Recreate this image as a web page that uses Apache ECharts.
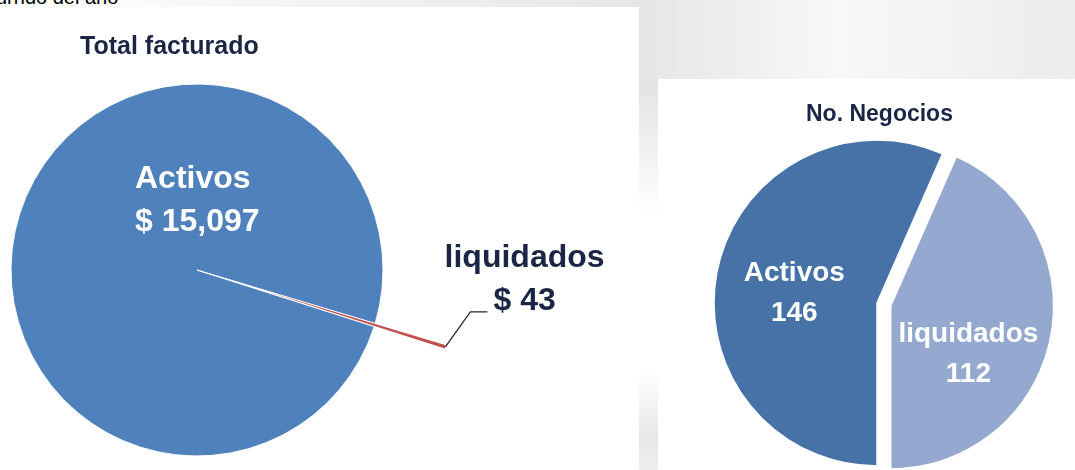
<!DOCTYPE html>
<html>
<head>
<meta charset="utf-8">
<script src="https://cdn.jsdelivr.net/npm/echarts@6/dist/echarts.min.js"></script>
<style>
  html, body { margin: 0; padding: 0; }
  body {
    width: 1075px; height: 470px; overflow: hidden; position: relative;
    background: linear-gradient(90deg, #ffffff 0%, #f3f3f3 30%, #e6e6e6 60%, #f8f8f8 78%, #ececec 100%);
  }
  .panel-left { position: absolute; left: 0; top: 7px; width: 639px; height: 463px; background: #fff; }
  .strip { position: absolute; left: 639px; top: 79px; width: 19px; height: 391px;
    background: linear-gradient(180deg, #e2e2e2 0%, #ffffff 35%, #ffffff 75%, #e6e6e6 92%, #efefef 100%); }
  .panel-right { position: absolute; left: 658px; top: 79px; width: 417px; height: 391px; background: #fff; }
  .cut-text { position: absolute; left: -4px; top: -14px; font: 20px "Liberation Sans", Arial, sans-serif; color: #000; }
  #chart { position: absolute; left: 0; top: 0; width: 1075px; height: 470px; }
</style>
</head>
<body>
<div class="panel-left"></div>
<div class="strip"></div>
<div class="panel-right"></div>
<div class="cut-text">urrido del año</div>
<div id="chart"></div>
<script>
// datos
const categorias = ['Activos', 'liquidados'];
const totalFacturado = [15097, 43];
const noNegocios = [146, 112];

const fuente = '"Liberation Sans", Arial, sans-serif';
const azulOscuro = '#1b2545';

const fmtMoney = v => '$ ' + v.toLocaleString('en-US');

// desplazamiento vertical de las etiquetas internas (No. Negocios)
const desplazaEtiqueta = [8, 31];

const chart = echarts.init(document.getElementById('chart'));

const option = {
  animation: false,
  backgroundColor: 'transparent',
  title: [
    {
      text: 'Total facturado', left: 75, top: 30,
      textStyle: { fontFamily: fuente, fontSize: 25, fontWeight: 'bold', color: azulOscuro }
    },
    {
      text: 'No. Negocios', left: 801, top: 98,
      textStyle: { fontFamily: fuente, fontSize: 23, fontWeight: 'bold', color: azulOscuro }
    }
  ],
  series: [
    {
      type: 'pie',
      center: [197, 270],
      radius: 186,
      startAngle: -17.7,
      clockwise: true,
      selectedMode: 'single',
      selectedOffset: 74,
      emphasis: { disabled: true },
      itemStyle: { borderColor: '#fff', borderWidth: 1 },
      labelLayout: function (params) {
        if (params.dataIndex !== 1 || !params.labelLinePoints) return {};
        const p0 = params.labelLinePoints[0];
        return {
          dx: 43, dy: -29, align: 'center', verticalAlign: 'bottom',
          labelLinePoints: [p0, [p0[0] + 25, p0[1] - 35], [p0[0] + 42, p0[1] - 35]]
        };
      },
      data: [
        {
          name: categorias[0], value: totalFacturado[0],
          itemStyle: { color: '#4f81bd' },
          label: {
            position: 'center', offset: [0, -69],
            formatter: p => '{a|' + p.name + '}\n{a|' + fmtMoney(p.value) + '}',
            rich: {
              a: { width: 124, align: 'left', color: '#fff', fontFamily: fuente, fontSize: 32, fontWeight: 'bold', lineHeight: 43 }
            }
          }
        },
        {
          name: categorias[1], value: totalFacturado[1], selected: true,
          itemStyle: { color: '#c0504d', borderWidth: 0 },
          label: {
            position: 'outside',
            formatter: p => p.name + '\n' + fmtMoney(p.value),
            color: azulOscuro, fontFamily: fuente, fontSize: 32, fontWeight: 'bold',
            lineHeight: 43, align: 'center'
          },
          labelLine: { show: true, length: 18, length2: 14, lineStyle: { color: '#222', width: 1.2 } }
        }
      ]
    },
    {
      type: 'pie',
      center: [877, 303],
      radius: 163,
      startAngle: -90,
      clockwise: true,
      selectedMode: 'single',
      selectedOffset: 14,
      emphasis: { disabled: true },
      itemStyle: { borderColor: '#fff', borderWidth: 1.5 },
      label: {
        position: 'inside',
        formatter: p => p.name + '\n' + p.value,
        color: '#fff', fontFamily: fuente, fontSize: 28, fontWeight: 'bold', lineHeight: 40
      },
      labelLine: { show: false },
      labelLayout: function (params) {
        return { dx: params.dataIndex === 1 ? -5 : 0, dy: desplazaEtiqueta[params.dataIndex] };
      },
      data: [
        { name: categorias[0], value: noNegocios[0], itemStyle: { color: '#4672a8' } },
        { name: categorias[1], value: noNegocios[1], selected: true, itemStyle: { color: '#95a9d0' } }
      ]
    }
  ]
};

chart.setOption(option);
</script>
</body>
</html>
